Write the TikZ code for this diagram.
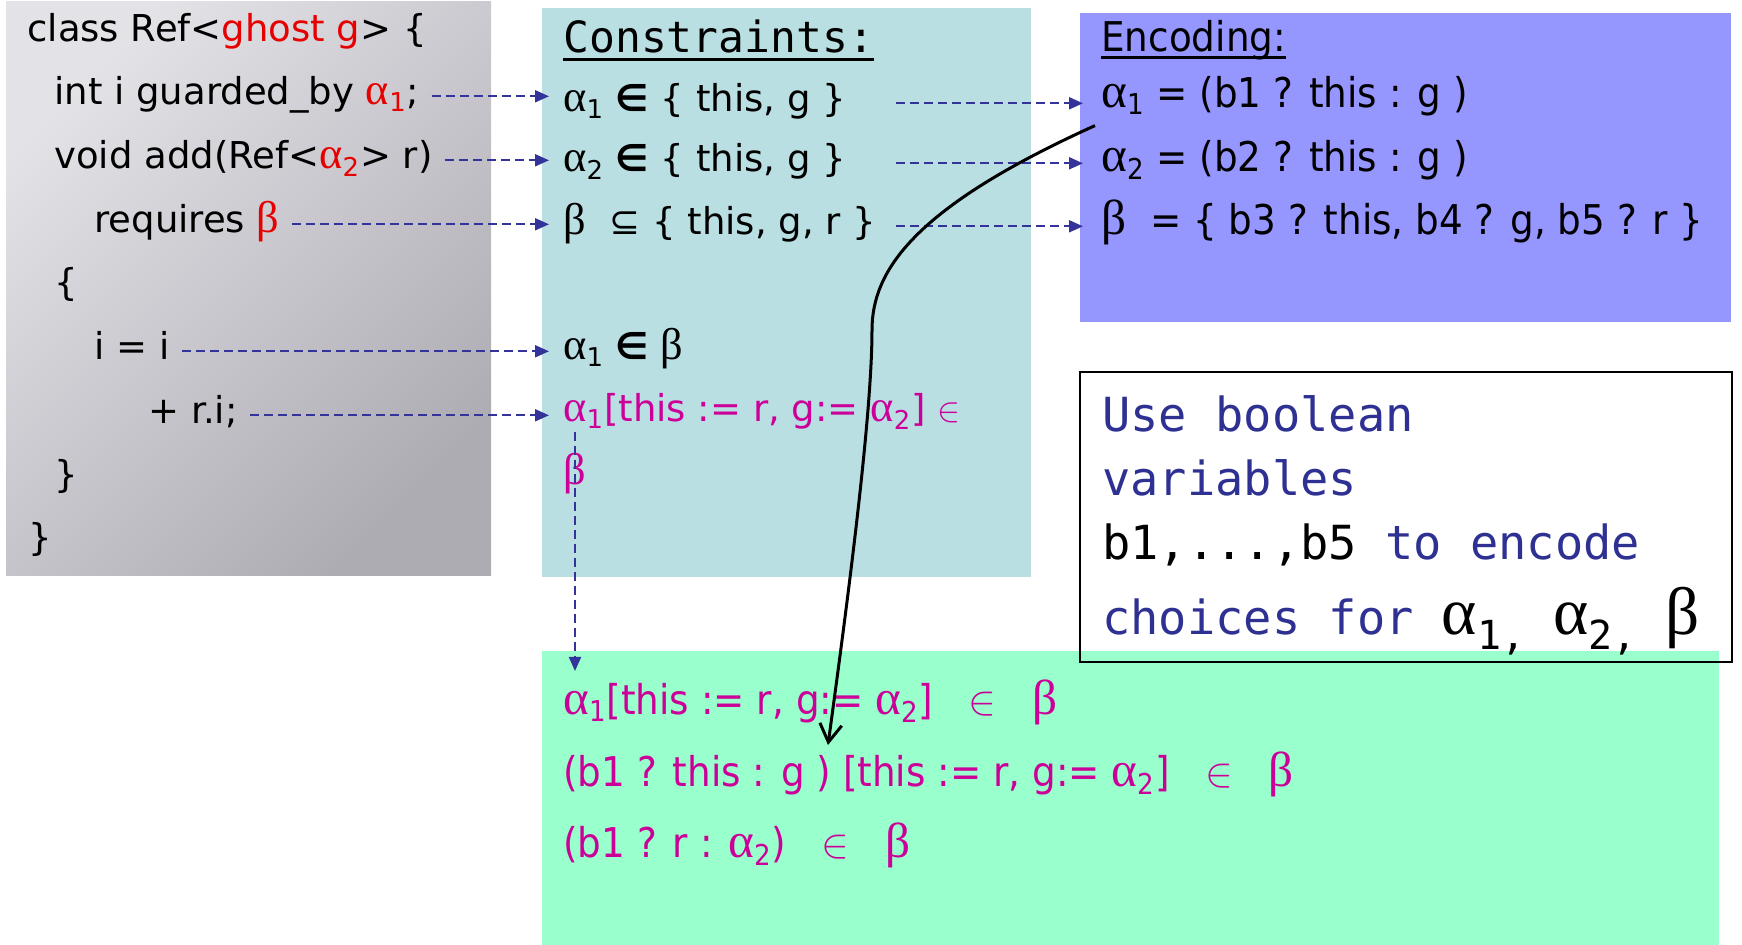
\documentclass[tikz,border=0pt]{standalone}
\usepackage{fontspec}
\usepackage{tikz}
\usetikzlibrary{arrows.meta,positioning,calc}
\newfontfamily\codefont{DejaVu Sans}
\newfontfamily\encfont[FakeStretch=0.91]{DejaVu Sans}
\newfontfamily\ttnote{DejaVu Sans Mono}
\newfontfamily\grkfont[Scale=1.2]{Liberation Serif}
\definecolor{slgrayA}{RGB}{227,226,231}
\definecolor{slgrayB}{RGB}{174,172,179}
\definecolor{slteal}{RGB}{185,223,227}
\definecolor{slblue}{RGB}{150,150,255}
\definecolor{slgreen}{RGB}{153,255,204}
\definecolor{slmag}{RGB}{204,0,153}
\definecolor{slred}{RGB}{230,0,0}
\definecolor{sldash}{RGB}{51,51,153}
\definecolor{slnote}{RGB}{46,49,146}
\newcommand{\al}[1]{{\grkfont α}\textsubscript{#1}}
\newcommand{\bt}{{\grkfont β}}
\newcommand{\bigal}[1]{{\grkfont\fontsize{28pt}{30pt}\selectfont α}\raisebox{-7.5pt}{\fontsize{20pt}{22pt}\selectfont #1}}
\newcommand{\ultext}[2]{\setbox0\hbox{#2}\rlap{\rule[-#1]{\wd0}{1.4pt}}\box0}
\tikzset{
  codeln/.style={anchor=base west, inner sep=0pt, text height=13.3pt, text depth=4.6pt,
    font=\codefont\fontsize{18.5pt}{22pt}\selectfont},
  encln/.style={anchor=base west, inner sep=0pt, text height=14.8pt, text depth=5.1pt,
    font=\encfont\fontsize{20.5pt}{24pt}\selectfont},
  noteln/.style={anchor=base west, inner sep=0pt, text=slnote,
    font=\ttnote\fontsize{23.5pt}{28pt}\selectfont},
  darr/.style={-{Triangle[length=7pt,width=6pt]}, sldash, line width=1pt,
    dash pattern=on 4.5pt off 2.5pt, shorten <=6pt, shorten >=7pt},
  bentarr/.style={-{Straight Barb[length=9pt,width=11pt]}, line width=1.5pt},
}

\begin{document}
\begin{tikzpicture}[x=0.5pt, y=-0.5pt]
  \useasboundingbox (0,0) rectangle (1742,945);
  % panels
  \shade[top color=slgrayA, bottom color=slgrayB, shading angle=45] (6,2) rectangle (491,576);
  \fill[slteal] (542,8) rectangle (1031,577);
  \fill[slblue] (1080,13) rectangle (1731,322);
  \fill[slgreen] (542,651) rectangle (1719,945);
  \draw[line width=1pt] (1080,372) rectangle (1732,662);

  % code
  \node[codeln] (k1) at (27,42) {class Ref<\textcolor{slred}{ghost g}> \{};
  \node[codeln] (k2) at (54,105) {int i guarded\_by \textcolor{slred}{\al{1}};};
  \node[codeln] (k3) at (54,169) {void add(Ref<\textcolor{slred}{\al{2}}> r)};
  \node[codeln] (k4) at (94,233) {requires \textcolor{slred}{\bt}};
  \node[codeln] (k5) at (54,296) {\{};
  \node[codeln] (k6) at (94,360) {i = i};
  \node[codeln] (k7) at (148,424) {+ r.i;};
  \node[codeln] (k8) at (54,488) {\}};
  \node[codeln] (k9) at (28,551) {\}};

  % constraints
  \node[anchor=base west, inner sep=0pt, font=\ttnote\fontsize{21.5pt}{26pt}\selectfont]
    (chead) at (563,53) {\ultext{4pt}{Constraints:}};
  \node[codeln] (c1) at (563,112) {\al{1} {\bfseries ∈} \{ this, g \}};
  \node[codeln] (c2) at (563,172) {\al{2} {\bfseries ∈} \{ this, g \}};
  \node[codeln] (c3) at (563,235) {\bt~~⊆ \{ this, g, r \}};
  \node[codeln] (c5) at (563,360) {\al{1} {\bfseries ∈} \bt};
  \node[codeln, text=slmag] (c6) at (563,422) {\al{1}[this := r, g:= \al{2}] $\in$};
  \node[codeln, text=slmag] (c7) at (563,485) {\bt};

  % encoding
  \node[encln] (ehead) at (1101,52) {\ultext{3.5pt}{Encoding:}};
  \node[encln] (e1) at (1101,108) {\al{1} = (b1 ? this : g )};
  \node[encln] (e2) at (1101,172) {\al{2} = (b2 ? this : g )};
  \node[encln] (e3) at (1101,235) {\bt~~= \{ b3 ? this, b4 ? g, b5 ? r \}};

  % note
  \node[noteln] (n1) at (1102,432) {Use boolean};
  \node[noteln] (n2) at (1102,496) {variables};
  \node[noteln] (n3) at (1102,560) {\textcolor{black}{b1,...,b5} to encode};
  \node[noteln] (n4) at (1102,635) {choices for \textcolor{black}{\bigal{1,} \bigal{2,} {\grkfont\fontsize{28pt}{30pt}\selectfont β}}};

  % rewriting steps
  \node[encln, text=slmag] (g1) at (563,715) {\al{1}[this := r, g:= \al{2}]~~~$\in$~~~\bt};
  \node[encln, text=slmag] (g2) at (563,787) {(b1 ? this : g ) [this := r, g:= \al{2}]~~~$\in$~~~\bt};
  \node[encln, text=slmag] (g3) at (563,858) {(b1 ? r : \al{2})~~~$\in$~~~\bt};

  % arrows
  \draw[darr] (k2.east) -- (k2.east -| c1.west);
  \draw[darr] (k3.east) -- (k3.east -| c2.west);
  \draw[darr] (k4.east) -- (k4.east -| c3.west);
  \draw[darr] (k6.east) -- (k6.east -| c5.west);
  \draw[darr] (k7.east) -- (k7.east -| c6.west);
  \foreach \i in {1,2,3}
    \draw[darr, shorten <=9.5pt, shorten >=9pt] (c\i.east -| c3.east) -- (c\i.east -| e\i.west);
  \draw[darr, shorten <=0pt] ([xshift=6pt]c6.south west) -- ([xshift=6pt]c6.south west |- g1.north);

  \coordinate (tip) at (828,745);
  \draw[bentarr] ([xshift=-3pt,yshift=-3.5pt]e1.south west)
    .. controls (915,207) and (872,270) .. (872,330)
    .. controls (872,420) and (845,620) .. (tip);
\end{tikzpicture}
\end{document}
